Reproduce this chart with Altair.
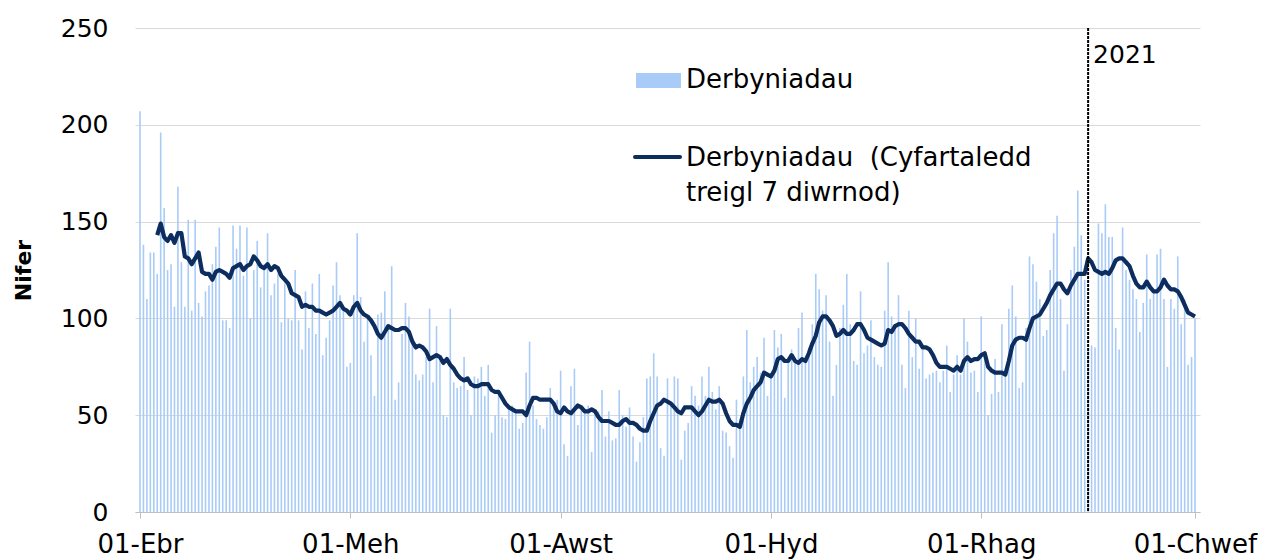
import altair as alt
import pandas as pd

# Daily admissions (Derbyniadau), 01 Apr 2020 -> 01 Feb 2021
admissions = [
    207, 138, 110, 134, 134, 123, 196, 157, 125, 128,
    106, 168, 129, 106, 151, 104, 151, 108, 101, 114,
    117, 128, 137, 147, 99, 99, 95, 148, 136, 148,
    122, 147, 100, 125, 140, 116, 128, 144, 112, 118,
    123, 98, 118, 100, 99, 125, 99, 84, 114, 95,
    118, 92, 123, 81, 90, 99, 117, 129, 112, 106,
    75, 77, 112, 144, 111, 88, 102, 81, 60, 102,
    103, 114, 95, 127, 58, 67, 92, 108, 101, 88,
    71, 68, 71, 80, 105, 67, 96, 78, 50, 49,
    105, 67, 64, 65, 80, 63, 50, 70, 69, 75,
    60, 76, 41, 50, 60, 49, 48, 55, 55, 51,
    43, 46, 72, 88, 55, 48, 45, 43, 49, 64,
    55, 58, 73, 35, 29, 65, 74, 45, 55, 52,
    55, 31, 50, 52, 63, 39, 52, 37, 38, 63,
    50, 44, 54, 39, 26, 36, 49, 69, 70, 82,
    70, 33, 29, 69, 55, 70, 69, 27, 42, 46,
    65, 60, 55, 70, 60, 75, 62, 53, 65, 42,
    41, 34, 28, 58, 45, 70, 94, 67, 75, 80,
    72, 90, 60, 70, 94, 85, 92, 59, 80, 84,
    78, 95, 103, 80, 85, 97, 123, 115, 104, 112,
    88, 60, 76, 95, 107, 123, 97, 78, 76, 114,
    82, 86, 99, 80, 76, 75, 104, 129, 101, 94,
    112, 76, 64, 104, 80, 100, 74, 84, 69, 71,
    72, 73, 67, 73, 86, 62, 71, 81, 71, 100,
    88, 72, 73, 62, 101, 80, 50, 61, 79, 62,
    97, 70, 105, 117, 101, 64, 67, 95, 132, 128,
    119, 110, 91, 94, 125, 144, 153, 110, 73, 97,
    125, 137, 166, 143, 120, 84, 86, 85, 149, 144,
    159, 142, 142, 95, 84, 147, 125, 120, 115, 110,
    93, 108, 133, 110, 115, 133, 136, 110, 75, 110,
    105, 132, 97, 110, 76, 80, 100,
]

# 7-day rolling average (starts 06 Apr 2020)
rolling_avg = [
    143, 149, 142, 140, 143, 139, 144, 144, 132, 131,
    128, 131, 134, 124, 123, 123, 120, 124, 125, 124,
    123, 121, 126, 127, 128, 125, 127, 128, 132, 130,
    127, 126, 128, 125, 127, 126, 122, 120, 118, 113,
    112, 111, 106, 107, 106,
    106, 104, 104, 103, 102, 103, 104, 106, 108, 105,
    104, 102, 106, 108, 104, 102, 101, 99, 96, 92,
    90, 93, 96, 95, 94, 94, 95, 95, 93, 88,
    85, 86, 85, 83, 79, 80, 81, 80, 77, 79,
    76, 74, 71, 69, 68, 69, 66, 65, 65, 66,
    66, 66, 63, 62, 62, 59, 56, 54, 53, 52,
    52, 52, 50, 55, 59, 59, 58, 58, 58, 58,
    56, 52, 51, 54, 52, 51, 53, 55, 54, 52,
    52, 53, 52, 49, 47, 47, 47, 46, 45, 45,
    47, 48, 46, 46, 45, 43, 42, 42,
    47, 51, 55, 56, 58, 57, 56, 54, 52, 51,
    54, 54, 54, 52, 50, 52, 55, 58, 57, 57,
    58, 56, 51, 47, 45, 45, 44, 51, 56, 59,
    63, 65, 67, 72, 71, 70, 73, 79, 80, 78,
    78, 81, 78, 77, 79, 78, 82, 87, 91, 98, 101,
    101, 99, 96, 91, 92, 94, 92, 92, 94, 97,
    97, 94, 90, 89, 88, 87, 86, 87, 94, 93,
    96, 97, 97, 95, 92, 90, 88, 88, 85, 85,
    84, 81, 77, 75, 75, 75, 74, 73, 75, 73,
    78, 80, 78, 79, 79, 81, 82, 75, 73, 72, 72, 72,
    71, 78, 86, 89, 90, 90, 89, 95, 100, 101,
    102, 105, 108, 112, 115, 118, 118, 115, 113, 117,
    120, 123, 123, 123, 131, 129, 125, 124, 123, 124,
    123, 126, 130, 131, 131, 129, 127, 122, 118, 116,
    116, 119, 116, 114, 114, 116, 120, 117, 115, 115,
    114, 111, 107, 103, 102, 101,
]

start_date = "2020-04-01"
end_date = (2021, 2, 1)
tick_months = [(2020, 4), (2020, 6), (2020, 8), (2020, 10), (2020, 12), (2021, 2)]
welsh_months = ["01-Ion", "01-Chwef", "01-Maw", "01-Ebr", "01-Mai", "01-Meh",
                "01-Gorff", "01-Awst", "01-Medi", "01-Hyd", "01-Tach", "01-Rhag"]
y_ticks = [0, 50, 100, 150, 200, 250]
year_marker = ["2021-01-01"]
year_label = ["2021"]
legend_bar = "Derbyniadau"
legend_line = ["Derbyniadau \u00a0(Cyfartaledd", "treigl 7 diwrnod)"]

dates = pd.date_range(start_date, periods=len(admissions), freq="D")
df_bars = pd.DataFrame({"date": dates.strftime("%Y-%m-%d"), "value": admissions})
off = len(admissions) - len(rolling_avg)
df_line = pd.DataFrame({"date": dates[off:].strftime("%Y-%m-%d"), "value": rolling_avg})
df_year = pd.DataFrame({"date": year_marker, "label": year_label})

FONT = "DejaVu Sans"
BAR_COLOR = "#a9cbf7"
LINE_COLOR = "#0c2d5e"
GRID = "#d9d9d9"

label_expr = "[" + ",".join("'%s'" % m for m in welsh_months) + "][utcmonth(datum.value)]"

x_scale = alt.Scale(
    type="utc",
    domain=[alt.DateTime(year=2020, month=4, date=1, utc=True),
            alt.DateTime(year=end_date[0], month=end_date[1], date=end_date[2], utc=True)],
)
x_axis = alt.Axis(
    values=[alt.DateTime(year=y, month=m, date=1, utc=True) for y, m in tick_months],
    labelExpr=label_expr,
    labelFontSize=26, labelColor="#000000", labelFont=FONT,
    labelFlush=False, labelOverlap=False, labelBound=False,
    tickSize=6, tickColor="#bfbfbf", domainColor="#bfbfbf",
    labelPadding=13, grid=False,
)
y_scale = alt.Scale(domain=[0, 250], nice=False)
y_axis = alt.Axis(
    values=y_ticks, titleFontSize=22, titleFontWeight="bold",
    titleFont=FONT, titleColor="#000000", titleX=-112, titleY=242,
    titleAngle=-90, titleAlign="center", titleBaseline="middle",
    labelFontSize=25, labelColor="#000000", labelFont=FONT, labelPadding=27,
    ticks=False, tickSize=0, domain=False, gridColor=GRID, gridWidth=1,
)

X = alt.X("date:T", scale=x_scale, axis=x_axis, title=None)
Y = alt.Y("value:Q", scale=y_scale, axis=y_axis, title="Nifer")

bars = alt.Chart(df_bars).mark_bar(width=1.6, color=BAR_COLOR).encode(x=X, y=Y)

line = alt.Chart(df_line).mark_line(color=LINE_COLOR, strokeWidth=4.2, strokeJoin="round").encode(x=X, y=Y)

vrule = alt.Chart(df_year).mark_rule(color="#000000", strokeWidth=2, strokeDash=[3, 1]).encode(
    x=X, y=alt.value(0), y2=alt.value(484),
)
vtext = alt.Chart(df_year).mark_text(align="left", baseline="middle", dx=5, fontSize=25,
                                     font=FONT, color="#000000").encode(
    x=X, y=alt.value(27), text="label:N",
)

leg_swatch = alt.Chart(pd.DataFrame({"t": [legend_bar]})).mark_rect(color=BAR_COLOR).encode(
    x=alt.value(501), x2=alt.value(546), y=alt.value(45), y2=alt.value(60))
leg_text1 = alt.Chart(pd.DataFrame({"t": [legend_bar]})).mark_text(
    align="left", baseline="middle", fontSize=26, font=FONT, color="#000000").encode(
    x=alt.value(551), y=alt.value(52), text="t:N")
leg_rule = alt.Chart(pd.DataFrame({"t": [legend_line[0]]})).mark_rule(
    color=LINE_COLOR, strokeWidth=4, strokeCap="round").encode(
    x=alt.value(500), x2=alt.value(545), y=alt.value(129))
leg_text2 = alt.Chart(pd.DataFrame({"t": [legend_line[0]]})).mark_text(
    align="left", baseline="middle", fontSize=26, font=FONT, color="#000000").encode(
    x=alt.value(551), y=alt.value(130), text="t:N")
leg_text3 = alt.Chart(pd.DataFrame({"t": [legend_line[1]]})).mark_text(
    align="left", baseline="middle", fontSize=26, font=FONT, color="#000000").encode(
    x=alt.value(551), y=alt.value(165), text="t:N")

chart = alt.layer(
    bars, line, vrule, vtext, leg_swatch, leg_text1, leg_rule, leg_text2, leg_text3
).properties(
    width=1065, height=484,
    autosize=alt.AutoSizeParams(type="none"),
    padding={"left": 127, "top": 20, "right": 65, "bottom": 48},
).configure(font=FONT).configure_view(stroke=None)

chart.save("out.html", embed_options={"renderer": "svg", "actions": False})
